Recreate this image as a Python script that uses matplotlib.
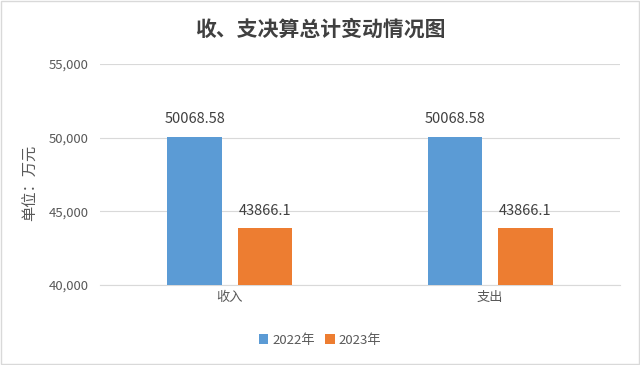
import matplotlib.pyplot as plt
import numpy as np
from matplotlib.ticker import FuncFormatter

plt.rcParams['font.family'] = ['Noto Sans CJK SC', 'DejaVu Sans']

categories = ['收入', '支出']
series_names = ['2022年', '2023年']
values_2022 = [50068.58, 50068.58]
values_2023 = [43866.1, 43866.1]
label_2022 = ['50068.58', '50068.58']
label_2023 = ['43866.1', '43866.1']
colors = ['#5B9BD5', '#ED7D31']

fig = plt.figure(figsize=(6.4, 3.65), dpi=100)
ax = fig.add_axes([0.156, 0.219, 0.813, 0.606])

x = np.arange(len(categories))
w = 0.21
off = 0.135
b1 = ax.bar(x - off, values_2022, w, color=colors[0], label=series_names[0], zorder=3)
b2 = ax.bar(x + off, values_2023, w, color=colors[1], label=series_names[1], zorder=3)

for bars, labels in [(b1, label_2022), (b2, label_2023)]:
    for rect, lab in zip(bars, labels):
        ax.text(rect.get_x() + rect.get_width() / 2, rect.get_height() + 700, lab,
                ha='center', va='bottom', fontsize=10.5, color='#404040')

ax.set_xlim(-0.5, 1.5)
ax.set_ylim(40000, 55000)
ax.set_yticks([40000, 45000, 50000, 55000])
ax.yaxis.set_major_formatter(FuncFormatter(lambda v, p: f'{int(v):,}'))
ax.set_xticks(x)
ax.set_xticklabels(categories)
ax.tick_params(axis='y', length=0, labelsize=9.5, colors='#595959', pad=8)
ax.tick_params(axis='x', length=0, labelsize=9.5, colors='#595959', pad=4)
ax.grid(axis='y', color='#D9D9D9', linewidth=0.8, zorder=0)
for s in ['top', 'right', 'left']:
    ax.spines[s].set_visible(False)
ax.spines['bottom'].set_color('#D9D9D9')

fig.text(0.047, 0.50, '单位：万元', rotation=90, ha='center', va='center',
         fontsize=11, color='#595959')
fig.text(0.5, 0.92, '收、支决算总计变动情况图', ha='center', va='center',
         fontsize=15, color='#404040', fontweight='bold')

fig.legend(handles=[b1, b2], loc='center', bbox_to_anchor=(0.5, 0.068), ncol=2,
           frameon=False, fontsize=9.5, handlelength=0.7, handleheight=0.7,
           handletextpad=0.3, columnspacing=0.8, labelcolor='#595959')

fig.patches.append(plt.Rectangle((0.002, 0.003), 0.996, 0.994, transform=fig.transFigure,
                                 fill=False, edgecolor='#D9D9D9', linewidth=1))

fig.savefig('out.png', dpi=100)
